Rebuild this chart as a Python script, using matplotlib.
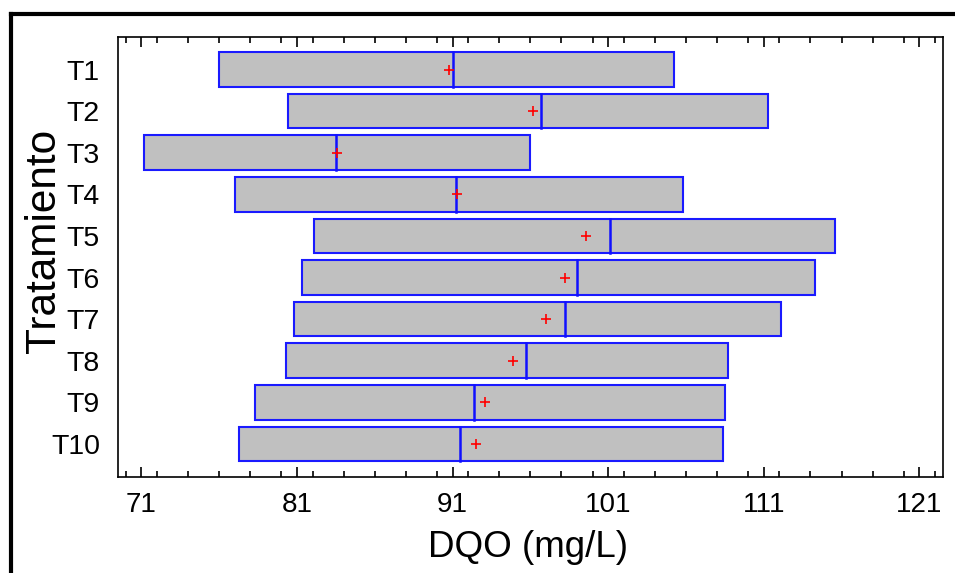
import matplotlib
matplotlib.use("Agg")
import matplotlib.pyplot as plt
from matplotlib.lines import Line2D
from matplotlib.ticker import MultipleLocator

plt.rcParams['font.family'] = ['Liberation Sans', 'DejaVu Sans']

# DQO per treatment: range (min, max), median and mean
tratamientos = ["T1", "T2", "T3", "T4", "T5", "T6", "T7", "T8", "T9", "T10"]
dqo_min = [76.0, 80.4, 71.2, 77.0, 82.1, 81.3, 80.8, 80.3, 78.3, 77.3]
dqo_max = [105.2, 111.3, 96.0, 105.8, 115.6, 114.3, 112.1, 108.7, 108.5, 108.4]
dqo_mediana = [91.0, 96.7, 83.5, 91.2, 101.1, 99.0, 98.2, 95.7, 92.4, 91.5]
dqo_media = [90.8, 96.2, 83.6, 91.3, 99.6, 98.2, 97.0, 94.9, 93.1, 92.5]

x_ticks = [71, 81, 91, 101, 111, 121]

fig = plt.figure(figsize=(9.55, 5.73), dpi=100)
ax = fig.add_axes([0.1236, 0.168, 0.8635, 0.768])

ypos = list(range(len(tratamientos)))
bar_h = 0.83
ax.barh(ypos, [b - a for a, b in zip(dqo_min, dqo_max)], left=dqo_min,
        height=bar_h, color="#c0c0c0", edgecolor="#1a1aff", linewidth=1.5,
        zorder=2)
for y, med in zip(ypos, dqo_mediana):
    ax.plot([med, med], [y - bar_h / 2, y + bar_h / 2], color="#1010ff",
            linewidth=1.8, zorder=3)
ax.plot(dqo_media, ypos, linestyle="none", marker="+", color="red",
        markersize=6.5, markeredgewidth=1.2, zorder=4)

ax.set_xlim(69.5, 122.5)
ax.set_ylim(9.79, -0.79)
ax.set_xticks(x_ticks)
ax.set_xticklabels([str(t) for t in x_ticks])
ax.xaxis.set_minor_locator(MultipleLocator(2))
ax.set_yticks(ypos)
ax.set_yticklabels(tratamientos)

ax.tick_params(axis="x", which="both", direction="in", top=True, bottom=True,
               labelsize=20, pad=11, width=1.2)
ax.tick_params(axis="x", which="major", length=7)
ax.tick_params(axis="x", which="minor", length=4)
ax.tick_params(axis="y", which="both", length=0, labelsize=20.5, pad=13)

for s in ax.spines.values():
    s.set_linewidth(1.2)

ax.set_xlabel("DQO (mg/L)", fontsize=26.5)
ax.xaxis.set_label_coords(0.497, -0.122)
ax.set_ylabel("Tratamiento", fontsize=30.5)
ax.yaxis.set_label_coords(-0.066, 0.535)

# Outer frame around the figure
fig.add_artist(Line2D([0.012, 0.012], [0.0, 0.9747], transform=fig.transFigure,
                      color="black", linewidth=3))
fig.add_artist(Line2D([0.012, 1.0], [0.9747, 0.9747], transform=fig.transFigure,
                      color="black", linewidth=3))

fig.savefig("out.png", dpi=100)
